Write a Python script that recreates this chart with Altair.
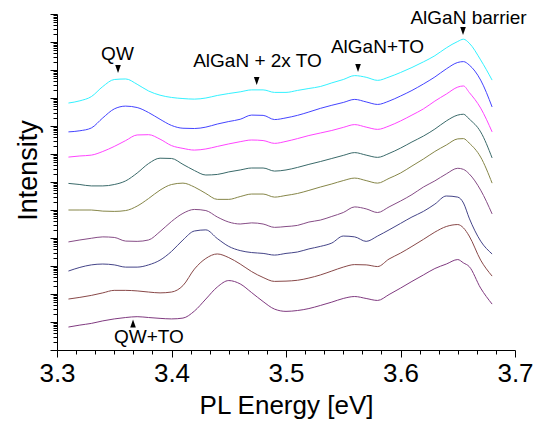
import altair as alt
import pandas as pd

# Photon energies (eV) at which the spectra were read
energy = [3.31, 3.32, 3.33, 3.34, 3.35, 3.36, 3.37, 3.38, 3.39, 3.40,
          3.41, 3.42, 3.43, 3.44, 3.45, 3.46, 3.47, 3.48, 3.49, 3.50,
          3.51, 3.52, 3.53, 3.54, 3.55, 3.56, 3.57, 3.58, 3.59, 3.60,
          3.61, 3.62, 3.63, 3.64, 3.65, 3.655, 3.66, 3.67, 3.68]

# log10 of PL intensity (stacked, arbitrary units), top spectrum first
s1 = [8.82, 8.90, 9.05, 9.41, 9.66, 9.68, 9.49, 9.25, 9.10, 9.02, 8.98, 8.96, 9.00, 9.09, 9.16, 9.22, 9.29, 9.29, 9.20, 9.20,
      9.27, 9.34, 9.41, 9.54, 9.66, 9.80, 9.74, 9.63, 9.75, 9.91, 10.09, 10.29, 10.51, 10.79, 11.02, 11.10, 10.96, 10.36, 9.64]
s2 = [7.79, 7.83, 7.93, 8.29, 8.61, 8.71, 8.66, 8.48, 8.24, 8.02, 7.92, 7.91, 7.96, 8.07, 8.16, 8.24, 8.39, 8.38, 8.23, 8.29,
      8.38, 8.50, 8.63, 8.74, 8.84, 8.95, 8.86, 8.77, 8.89, 9.07, 9.27, 9.50, 9.75, 10.04, 10.27, 10.30, 10.18, 9.64, 8.68]
s3 = [6.89, 6.93, 6.96, 7.09, 7.27, 7.48, 7.68, 7.69, 7.53, 7.30, 7.20, 7.14, 7.18, 7.27, 7.36, 7.44, 7.50, 7.48, 7.38, 7.45,
      7.55, 7.66, 7.75, 7.84, 7.95, 8.05, 7.96, 7.88, 8.00, 8.18, 8.39, 8.61, 8.89, 9.14, 9.39, 9.43, 9.20, 8.64, 7.79]
s4 = [5.95, 5.91, 5.86, 5.86, 5.91, 6.04, 6.32, 6.66, 6.85, 6.84, 6.63, 6.41, 6.25, 6.27, 6.36, 6.43, 6.50, 6.50, 6.39, 6.43,
      6.52, 6.63, 6.73, 6.84, 6.95, 7.05, 6.96, 6.88, 7.02, 7.21, 7.43, 7.64, 7.89, 8.18, 8.39, 8.42, 8.25, 7.79, 6.86]
s5 = [5.00, 5.00, 5.00, 4.96, 4.95, 4.98, 5.14, 5.41, 5.71, 5.91, 5.96, 5.82, 5.59, 5.38, 5.38, 5.48, 5.57, 5.57, 5.46, 5.52,
      5.59, 5.70, 5.82, 5.93, 6.05, 6.14, 6.05, 5.96, 6.13, 6.32, 6.57, 6.82, 7.09, 7.32, 7.54, 7.55, 7.39, 6.89, 5.96]
s6 = [3.86, 3.93, 3.99, 4.04, 4.02, 3.89, 3.88, 3.93, 4.23, 4.59, 4.88, 5.02, 4.98, 4.75, 4.57, 4.50, 4.54, 4.50, 4.38, 4.41,
      4.45, 4.57, 4.64, 4.77, 4.91, 5.11, 5.04, 4.91, 5.11, 5.32, 5.55, 5.82, 6.04, 6.29, 6.49, 6.45, 6.29, 5.71, 4.86]
s7 = [2.82, 2.95, 3.04, 3.07, 3.04, 2.96, 2.96, 3.04, 3.21, 3.52, 3.93, 4.25, 4.29, 3.98, 3.70, 3.55, 3.48, 3.45, 3.39, 3.45,
      3.50, 3.61, 3.70, 3.82, 4.07, 4.04, 3.88, 4.07, 4.29, 4.52, 4.75, 4.95, 5.21, 5.50, 5.46, 5.25, 4.71, 3.89, 3.43]
s8 = [1.82, 1.88, 1.95, 2.04, 2.13, 2.13, 2.11, 2.07, 2.04, 2.07, 2.30, 2.89, 3.27, 3.43, 3.30, 3.07, 2.80, 2.59, 2.45, 2.46,
      2.49, 2.57, 2.68, 2.82, 2.96, 3.05, 3.04, 2.98, 3.25, 3.46, 3.70, 3.95, 4.21, 4.41, 4.48, 4.36, 4.07, 3.21, 2.64]
s9 = [0.82, 0.89, 0.95, 1.04, 1.11, 1.16, 1.19, 1.16, 1.13, 1.11, 1.14, 1.39, 1.82, 2.25, 2.48, 2.36, 2.05, 1.73, 1.46, 1.38,
      1.41, 1.48, 1.59, 1.71, 1.84, 1.91, 1.84, 1.77, 1.98, 2.21, 2.45, 2.68, 2.91, 3.07, 3.23, 3.11, 2.98, 2.21, 1.64]

series_names = ["s1", "s2", "s3", "s4", "s5", "s6", "s7", "s8", "s9"]
series_vals = [s1, s2, s3, s4, s5, s6, s7, s8, s9]
series_colors = ["#33f2ff", "#4444ff", "#ff44ff", "#3a6a6a", "#868648", "#864c86", "#444488", "#884848", "#803a80"]

# Annotations
ann_text = ["QW", "AlGaN + 2x TO", "AlGaN+TO", "AlGaN barrier", "QW+TO"]
ann_x = [3.3528, 3.4751, 3.5799, 3.6594, 3.3803]
ann_logy = [10.36, 10.11, 10.61, 11.66, 0.25]
tri_x = [3.3533, 3.4744, 3.5629, 3.6546, 3.3664]
tri_logy = [10.04, 9.61, 10.07, 11.39, 0.95]
tri_dir = ["down", "down", "down", "down", "up"]

rows = []
for name, vals in zip(series_names, series_vals):
    for e, v in zip(energy, vals):
        rows.append({"E": e, "I": 10 ** v, "s": name})
df = pd.DataFrame(rows)

df_text = pd.DataFrame({"E": ann_x, "I": [10 ** v for v in ann_logy], "t": ann_text})
df_tri = pd.DataFrame({"E": tri_x, "I": [10 ** v for v in tri_logy], "d": tri_dir})

FONT = "Liberation Sans"

x_major_ticks = [3.3, 3.4, 3.5, 3.6, 3.7]
x_minor_ticks = [round(3.3 + i / 60, 6) for i in range(25) if i % 6 != 0]
y_ticks = sorted([k * 10 ** n for n in range(12) for k in range(1, 10)] + [10 ** 12])

y_major = "abs(log(datum.value)/LN10 - round(log(datum.value)/LN10)) < 0.001"

x_axis = alt.Axis(
    orient="bottom",
    values=x_major_ticks,
    format=".1f",
    title="PL Energy [eV]",
    tickSize=7,
    labelFont=FONT, labelFontSize=26, labelColor="black",
    labelPadding=3, labelFlush=False, labelOverlap=False,
    titleFont=FONT, titleFontSize=26, titleFontWeight="normal", titleColor="black",
    titleX=229, titleY=63, titleBaseline="alphabetic", titleAlign="center",
    domainColor="black", tickColor="black", grid=False,
)
x_minor_axis = alt.Axis(
    orient="bottom",
    values=x_minor_ticks,
    labels=False,
    title="",
    tickSize=4,
    domain=False,
    tickColor="black", grid=False,
)
y_axis = alt.Axis(
    values=y_ticks,
    labels=False,
    title="Intensity",
    tickSize={"condition": {"test": y_major, "value": 7}, "value": 4},
    titleFont=FONT, titleFontSize=27, titleFontWeight="normal", titleColor="black",
    titleX=-29, titleY=156, titleAngle=270, titleAlign="center", titleBaseline="middle",
    domainColor="black", tickColor="black", grid=False,
)

xs = alt.Scale(domain=[3.3, 3.7], nice=False, zero=False)
ys = alt.Scale(type="log", domain=[1, 1e12], nice=False)

lines = alt.Chart(df).mark_line(strokeWidth=1, interpolate="monotone").encode(
    x=alt.X("E:Q", scale=xs, axis=x_axis),
    y=alt.Y("I:Q", scale=ys, axis=y_axis),
    color=alt.Color("s:N", scale=alt.Scale(domain=series_names, range=series_colors), legend=None),
)

tri_down = "M-0.7,-1L0.7,-1L0,1Z"
tri_up = "M-0.7,1L0.7,1L0,-1Z"
tris = alt.Chart(df_tri).mark_point(filled=True, color="black", size=64, opacity=1, strokeWidth=0).encode(
    x=alt.X("E:Q", axis=x_minor_axis),
    y=alt.Y("I:Q"),
    shape=alt.Shape("d:N", scale=alt.Scale(domain=["down", "up"], range=[tri_down, tri_up]), legend=None),
)

texts = alt.Chart(df_text).mark_text(font=FONT, fontSize=19, align="center", baseline="alphabetic", color="black").encode(
    x=alt.X("E:Q", axis=None),
    y=alt.Y("I:Q"),
    text="t:N",
)

chart = alt.layer(lines, tris, texts).resolve_axis(x="independent").properties(
    width=458, height=336,
    autosize=alt.AutoSizeParams(type="none"),
    padding={"left": 49, "top": 6, "right": 30, "bottom": 70},
).configure_view(strokeWidth=0)

chart.save("out.html", embed_options={"renderer": "svg", "actions": False})
